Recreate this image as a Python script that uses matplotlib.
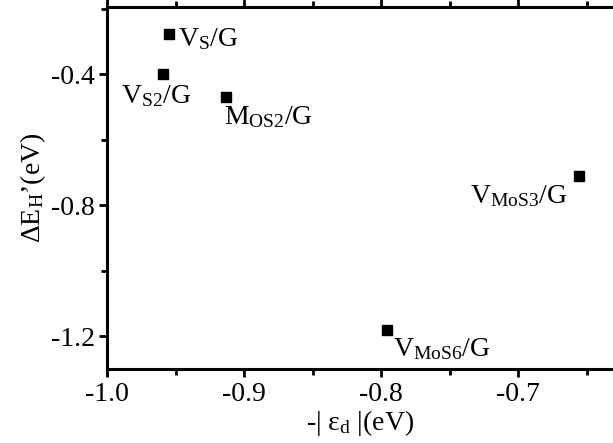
import numpy as np
import matplotlib.pyplot as plt
from matplotlib.ticker import MultipleLocator

plt.rcParams['font.family'] = 'Liberation Serif'
plt.rcParams['mathtext.fontset'] = 'custom'
plt.rcParams['mathtext.rm'] = 'Liberation Serif'
plt.rcParams['mathtext.it'] = 'Liberation Serif'
plt.rcParams['mathtext.default'] = 'regular'

# data
eps_d = [-0.955, -0.959, -0.913, -0.656, -0.796]
dE_H = [-0.278, -0.400, -0.470, -0.711, -1.180]
names = [r'V$_{S}$/G', r'V$_{S2}$/G', r'M$_{OS2}$/G', r'V$_{MoS3}$/G', r'V$_{MoS6}$/G']
# label offsets in pixels and alignment
offs = [(9, -5, 'left'), (-42, -22, 'left'), (-2, -20, 'left'), (-11, -20, 'right'), (6, -19, 'left')]

fig = plt.figure(figsize=(6.13, 4.43), dpi=100)
ax = fig.add_axes([0.1746, 0.167, 0.8254, 0.817])

ax.plot(eps_d, dE_H, 's', color='black', markersize=7, linestyle='none')
for x, y, s, (dx, dy, ha) in zip(eps_d, dE_H, names, offs):
    ax.annotate(s, (x, y), xytext=(dx, dy), textcoords='offset pixels',
                ha=ha, va='center', fontsize=20)

ax.set_xlim(-1.0, -0.631)
ax.set_ylim(-1.3, -0.195)
ax.xaxis.set_minor_locator(MultipleLocator(0.05))
ax.yaxis.set_minor_locator(MultipleLocator(0.2))
ax.set_yticks([-0.4, -0.8, -1.2])
ax.set_xticks([-1.0, -0.9, -0.8, -0.7])
ax.set_xticklabels(['-1.0', '-0.9', '-0.8', '-0.7'])
ax.set_yticklabels(['-0.4', '-0.8', '-1.2'])

for sp in ['left', 'bottom', 'top']:
    ax.spines[sp].set_linewidth(2.2)
ax.spines['right'].set_visible(False)
ax.tick_params(which='both', direction='out', width=2, labelsize=20, pad=3)
ax.tick_params(which='major', length=6)
ax.tick_params(which='minor', length=4)
ax.tick_params(axis='x', which='both', top=True)

ax.set_xlabel('-| ε$_{d}$ |(eV)', fontsize=20, labelpad=1)
ax.set_ylabel('ΔE$_{H}$’(eV)', fontsize=20, labelpad=2)

fig.savefig('out.png', dpi=100)
